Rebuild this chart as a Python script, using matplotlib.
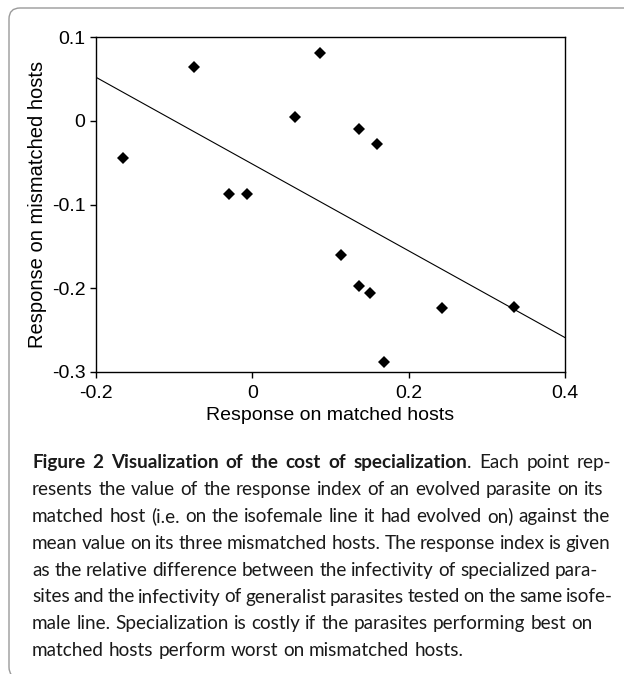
import matplotlib
matplotlib.use("Agg")
import matplotlib.pyplot as plt
from matplotlib.patches import FancyBboxPatch
from matplotlib.transforms import IdentityTransform
import numpy as np

plt.rcParams["axes.unicode_minus"] = False

# ---------------- data ----------------
matched = [-0.166, -0.074, -0.030, -0.007, 0.054, 0.087, 0.136, 0.160,
           0.114, 0.136, 0.151, 0.168, 0.243, 0.335]
mismatched = [-0.045, 0.064, -0.088, -0.088, 0.005, 0.081, -0.010, -0.028,
              -0.160, -0.197, -0.206, -0.288, -0.224, -0.222]
fit_slope = -0.518
fit_intercept = -0.0517

xticks = [-0.2, 0.0, 0.2, 0.4]
xtick_labels = ["-0.2", "0", "0.2", "0.4"]
yticks = [-0.3, -0.2, -0.1, 0.0, 0.1]
ytick_labels = ["-0.3", "-0.2", "-0.1", "0", "0.1"]
xlabel = "Response on matched hosts"
ylabel = "Response on mismatched hosts"

caption_bold = "Figure 2 Visualization of the cost of specialization"
caption_lines = [
    ". Each point rep-",
    "resents the value of the response index of an evolved parasite on its",
    "matched host (i.e. on the isofemale line it had evolved on) against the",
    "mean value on its three mismatched hosts. The response index is given",
    "as the relative difference between the infectivity of specialized para-",
    "sites and the infectivity of generalist parasites tested on the same isofe-",
    "male line. Specialization is costly if the parasites performing best on",
    "matched hosts perform worst on mismatched hosts.",
]

# ---------------- figure ----------------
W, H = 624, 674
fig = plt.figure(figsize=(W / 100, H / 100), dpi=100)
fig.patch.set_facecolor("white")

# rounded frame
frame = FancyBboxPatch((9, -4), 700, (H - 8) + 4,
                       boxstyle="round,pad=0,rounding_size=11",
                       transform=IdentityTransform(), fill=False,
                       edgecolor="#9a9a9a", linewidth=1.0)
fig.add_artist(frame)

ax = fig.add_axes([96 / W, 1 - 372 / H, (565 - 96) / W, (372 - 37) / H])
ax.set_xlim(-0.2, 0.4)
ax.set_ylim(-0.3, 0.1)

xs = np.array(ax.get_xlim())
ax.plot(xs, fit_intercept + fit_slope * xs, color="black", lw=0.8, zorder=2)
ax.plot(matched, mismatched, linestyle="none", marker="D", markersize=6.2,
        markerfacecolor="black", markeredgewidth=0, zorder=3)

tick_font = dict(family="Liberation Sans", size=14)
ax.set_xticks(xticks)
ax.set_xticklabels(xtick_labels, fontdict=tick_font)
ax.set_yticks(yticks)
ax.set_yticklabels(ytick_labels, fontdict=tick_font)
ax.tick_params(axis="both", direction="out", length=4.5, width=1.0,
               top=False, right=False, color="black")
ax.tick_params(axis="x", pad=5)
ax.tick_params(axis="y", pad=3)
for s in ax.spines.values():
    s.set_linewidth(1.0)

ax.set_xlabel(xlabel, family="Liberation Sans", fontsize=14)
ax.xaxis.set_label_coords(0.5, -0.103)
ax.set_ylabel(ylabel, family="Liberation Sans", fontsize=14.5)
ax.yaxis.set_label_coords(-0.105, 0.5)

# ---------------- caption ----------------
CAP_FS = 13.6
CAP_FAMILY = "Lato"
left = 32
baselines = [468 + 26.9 * i for i in range(len(caption_lines))]
right_targets = [611, 603, 610, 610, 598, 613, 592, None]

renderer = fig.canvas.get_renderer()


def seg_width(text, bold):
    t = fig.text(0, 0, text, fontsize=CAP_FS, family=CAP_FAMILY,
                 weight="bold" if bold else "normal",
                 transform=IdentityTransform())
    w = t.get_window_extent(renderer).width
    t.remove()
    return w


space_w = seg_width("a a", False) - seg_width("aa", False)

for i, line in enumerate(caption_lines):
    tokens = []
    if i == 0:
        for w in caption_bold.split(" "):
            tokens.append([(w, True)])
        rest = line.split(" ")
        tokens[-1].append((rest[0], False))
        for w in rest[1:]:
            tokens.append([(w, False)])
    else:
        for w in line.split(" "):
            tokens.append([(w, False)])
    widths = [[seg_width(s, b) for s, b in tok] for tok in tokens]
    total = sum(sum(ws) for ws in widths)
    if right_targets[i] is not None and len(tokens) > 1:
        gap = (right_targets[i] - left - total) / (len(tokens) - 1)
    else:
        gap = space_w
    x = left
    y = H - baselines[i]
    for tok, ws in zip(tokens, widths):
        for (s, b), w in zip(tok, ws):
            fig.text(x, y, s, fontsize=CAP_FS, family=CAP_FAMILY,
                     weight="bold" if b else "normal", ha="left",
                     va="baseline", color="#1a1a1a",
                     transform=IdentityTransform())
            x += w
        x += gap

fig.savefig("out.png", dpi=100)
